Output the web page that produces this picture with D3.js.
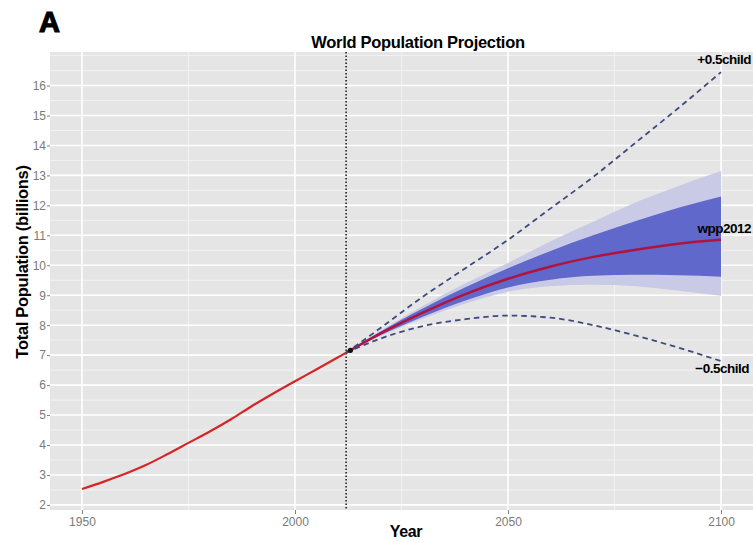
<!DOCTYPE html>
<html><head><meta charset="utf-8">
<script src="https://cdn.jsdelivr.net/npm/d3@7"></script>
<style>body{margin:0;background:#fff}svg{display:block}</style>
</head><body>
<svg id="c" width="753" height="542"></svg>
<script>
// ---- data ----
const histYears = [1950,1955,1960,1965,1970,1975,1980,1985,1990,1995,2000,2005,2010,2012];
const histPop   = [2.53,2.77,3.03,3.33,3.69,4.07,4.45,4.86,5.31,5.73,6.13,6.52,6.92,7.08];
const projYears = [2012,2020,2030,2040,2050,2060,2070,2080,2090,2100];
const median    = [7.08,7.72,8.42,9.04,9.55,9.96,10.28,10.52,10.72,10.85];
const pi80Lo    = [7.08,7.66,8.28,8.82,9.26,9.52,9.65,9.68,9.67,9.62];
const pi80Hi    = [7.08,7.78,8.56,9.27,9.90,10.48,11.00,11.48,11.92,12.30];
const pi95Lo    = [7.08,7.63,8.22,8.72,9.12,9.30,9.35,9.30,9.15,8.98];
const pi95Hi    = [7.08,7.81,8.64,9.40,10.08,10.80,11.45,12.10,12.65,13.15];
const highVar   = [7.08,7.90,8.95,9.90,10.85,11.90,12.95,14.10,15.25,16.45];
const lowVar    = [7.08,7.55,7.97,8.20,8.32,8.25,8.00,7.65,7.25,6.80];
const xTicks = [1950,2000,2050,2100];
const xMinor = [1975,2025,2075];
const yTicks = [2,3,4,5,6,7,8,9,10,11,12,13,14,15,16];
const baseYear = 2012;

// ---- layout ----
const svg = d3.select("#c");
const L = 50, R = 753, T = 52, B = 510;
const x = d3.scaleLinear().domain([1942.5, 2107.5]).range([L, R]);
const y = d3.scaleLinear().domain([1.83, 17.12]).range([B, T]);

svg.append("rect").attr("x",L).attr("y",T).attr("width",R-L).attr("height",B-T).attr("fill","#e5e5e5");

// minor grid
const yMinor = yTicks.slice(0,-1).map(v=>v+0.5).concat([16.5,17]).filter(v=>v>1.83&&v<17.12);
svg.append("g").selectAll("line").data(yMinor).join("line")
  .attr("x1",L).attr("x2",R).attr("y1",d=>y(d)).attr("y2",d=>y(d))
  .attr("stroke","#f2f2f2").attr("stroke-width",1);
svg.append("g").selectAll("line").data(xMinor).join("line")
  .attr("y1",T).attr("y2",B).attr("x1",d=>x(d)).attr("x2",d=>x(d))
  .attr("stroke","#f2f2f2").attr("stroke-width",1);
// major grid
svg.append("g").selectAll("line").data(yTicks).join("line")
  .attr("x1",L).attr("x2",R).attr("y1",d=>y(d)).attr("y2",d=>y(d))
  .attr("stroke","#ffffff").attr("stroke-width",1.6);
svg.append("g").selectAll("line").data(xTicks).join("line")
  .attr("y1",T).attr("y2",B).attr("x1",d=>x(d)).attr("x2",d=>x(d))
  .attr("stroke","#ffffff").attr("stroke-width",1.6);

// axes
const yAxis = svg.append("g").attr("transform",`translate(${L},0)`)
  .call(d3.axisLeft(y).tickValues(yTicks).tickSize(3).tickPadding(1).tickFormat(d3.format("d")));
const xAxis = svg.append("g").attr("transform",`translate(0,${B})`)
  .call(d3.axisBottom(x).tickValues(xTicks).tickSize(4).tickPadding(3).tickFormat(d3.format("d")));
[yAxis,xAxis].forEach(a=>{
  a.select(".domain").remove();
  a.selectAll(".tick line").attr("stroke","#7f7f7f");
  a.selectAll(".tick text").attr("fill","#7a7a7a").style("font-family","Liberation Sans, Arial, sans-serif").style("font-size","12px");
});

// bands
const idx = d3.range(projYears.length);
const area = (lo,hi)=>d3.area().x(i=>x(projYears[i])).y0(i=>y(lo[i])).y1(i=>y(hi[i])).curve(d3.curveMonotoneX)(idx);
svg.append("path").attr("d",area(pi95Lo,pi95Hi)).attr("fill","#c9cae6");
svg.append("path").attr("d",area(pi80Lo,pi80Hi)).attr("fill","#6068cc");

// dotted vertical line
svg.append("line").attr("x1",x(baseYear)).attr("x2",x(baseYear)).attr("y1",T).attr("y2",B)
  .attr("stroke","#222").attr("stroke-width",1.6).attr("stroke-dasharray","1.5,2");

// lines
const line = (xs,ys)=>d3.line().x(i=>x(xs[i])).y(i=>y(ys[i])).curve(d3.curveMonotoneX)(d3.range(xs.length));
svg.append("path").attr("d",line(histYears,histPop)).attr("fill","none").attr("stroke","#d42626").attr("stroke-width",2.2);
svg.append("path").attr("d",line(projYears,median)).attr("fill","none").attr("stroke","#b0143c").attr("stroke-width",2.4);
[highVar,lowVar].forEach(v=>{
  svg.append("path").attr("d",line(projYears,v)).attr("fill","none").attr("stroke","#3f4a7e")
    .attr("stroke-width",1.8).attr("stroke-dasharray","5.5,4");
});
svg.append("circle").attr("cx",x(2013)).attr("cy",y(7.16)).attr("r",2.6).attr("fill","#111");

// labels
const font = "Liberation Sans, Arial, sans-serif";
const lab = (t,xx,yy,anchor)=>svg.append("text").attr("x",xx).attr("y",yy).attr("text-anchor",anchor)
  .style("font-family",font).style("font-weight","bold").style("font-size","13.5px").attr("letter-spacing","-0.5").attr("fill","#000").text(t);
lab("+0.5child", 751, 64, "end");
lab("wpp2012", 751, 233, "end");
lab("\u22120.5child", 749, 373, "end");

svg.append("text").attr("x",418).attr("y",48).attr("text-anchor","middle")
  .style("font-family",font).style("font-weight","bold").style("font-size","16.5px").attr("letter-spacing","-0.3").text("World Population Projection");
svg.append("text").attr("x",39).attr("y",32)
  .style("font-family",font).style("font-weight","bold").style("font-size","29px")
  .attr("stroke","#000").attr("stroke-width",1.2).text("A");
svg.append("text").attr("transform","translate(28,262) rotate(-90)").attr("text-anchor","middle")
  .style("font-family",font).style("font-weight","bold").style("font-size","16.5px").attr("letter-spacing","-0.3").text("Total Population (billions)");
svg.append("text").attr("x",406).attr("y",537).attr("text-anchor","middle")
  .style("font-family",font).style("font-weight","bold").style("font-size","16px").attr("letter-spacing","-0.3").text("Year");
</script>
</body></html>
